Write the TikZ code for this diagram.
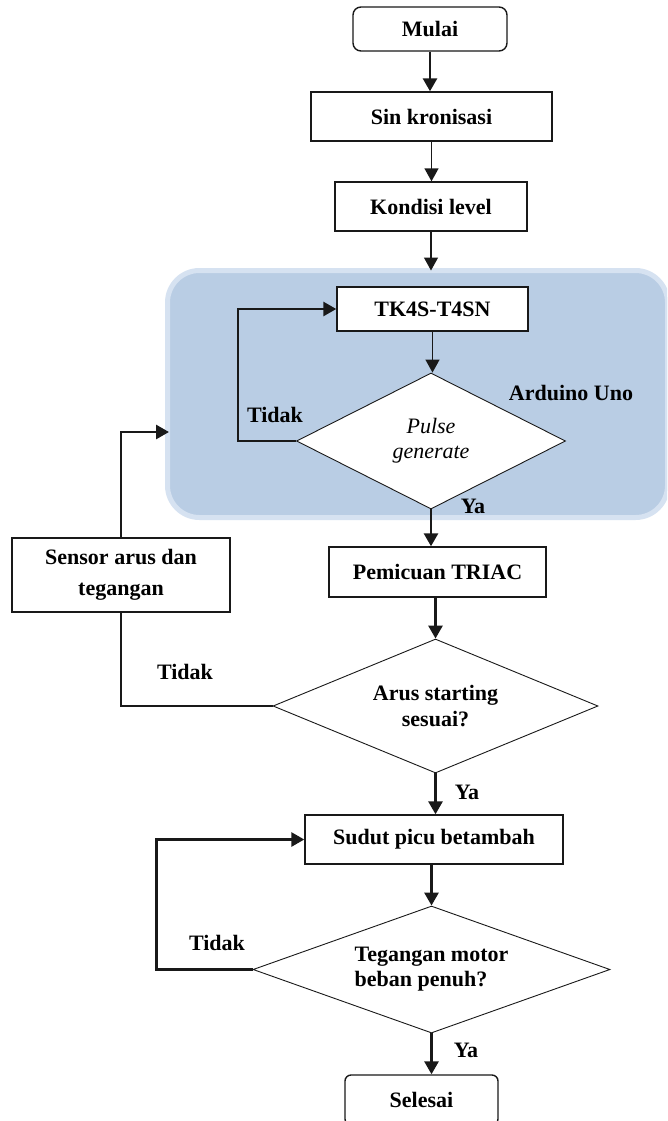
\documentclass[tikz,border=0pt]{standalone}
\usepackage{fontspec}
\setmainfont{Liberation Serif}
\usetikzlibrary{shapes.geometric,arrows.meta}
\definecolor{mcublue}{RGB}{185,205,228}
\definecolor{mcurim}{RGB}{214,226,241}
\definecolor{linecol}{RGB}{25,25,25}
\tikzset{
  txt/.style={font=\fontsize{22}{26}\selectfont\bfseries},
  box/.style={draw=linecol, line width=1.4pt, fill=white, inner sep=0pt, align=center, txt},
  decision/.style={diamond, shape aspect=2, draw=linecol, line width=0.9pt, fill=white, inner sep=0pt, align=center, txt},
  thinarr/.style={draw=linecol, line width=1.4pt, -{Triangle[length=13pt,width=14pt]}},
  thickarr/.style={draw=linecol, line width=2.8pt, -{Triangle[length=13pt,width=14pt]}},
  thinline/.style={draw=linecol, line width=1.4pt},
  lbl/.style={txt, inner sep=0pt}
}
\begin{document}
\begin{tikzpicture}[x=1pt,y=-1pt]
\useasboundingbox (0,0) rectangle (667,1121);
\clip (0,0) rectangle (667,1121);
\fill[white] (0,0) rectangle (667,1121);

% microcontroller region
\node[draw=mcurim, fill=mcublue, line width=5pt, rounded corners=32pt, outer sep=0pt,
      minimum width=500pt, minimum height=247pt, inner sep=0pt] (mcu) at (417.5,394) {};
\node[lbl] (ard) at (571,393) {Arduino Uno};

% nodes
\node[box, rounded corners=8pt, minimum width=154pt, minimum height=44pt] (mulai) at (430,29) {Mulai};
\node[box, minimum width=241pt, minimum height=49pt] (sink) at (431.5,116.5) {Sin kronisasi};
\node[box, minimum width=192pt, minimum height=49pt] (kond) at (431,206.5) {Kondisi level};
\node[box, minimum width=191pt, minimum height=44pt] (tk) at (432.5,309) {TK4S-T4SN};
\node[decision, minimum width=269pt, minimum height=136pt, font=\fontsize{22}{25}\selectfont\itshape] (pulse) at (431,441) {Pulse\\generate};
\node[box, minimum width=217pt, minimum height=50pt] (pem) at (437.5,572) {Pemicuan TRIAC};
\node[box, minimum width=218pt, minimum height=74pt, font=\fontsize{22}{31}\selectfont\bfseries] (sensor) at (121,575) {Sensor arus dan\\tegangan};
\node[decision, minimum width=325pt, minimum height=134pt] (arus) at (435.5,706) {Arus starting\\sesuai?};
\node[box, minimum width=258pt, minimum height=49pt] (sudut) at (434,839.5) {Sudut picu betambah};
\node[decision, minimum width=357pt, minimum height=127pt, align=left, font=\fontsize{22}{25}\selectfont\bfseries] (teg) at (431.5,969.5) {Tegangan motor\\beban penuh?};
\node[box, rounded corners=6pt, minimum width=153pt, minimum height=50pt] (sel) at (421.5,1100) {Selesai};

% connectors
\draw[thickarr] (mulai.south) -- (mulai.south |- sink.north);
\draw[thinarr] (sink.south) -- (sink.south |- kond.north);
\draw[thinarr] (kond.south) -- (kond.south |- mcu.north);
\draw[thinarr] (tk.south) -- (tk.south |- pulse.north);
\draw[thickarr] (pulse.west) -- ++(-58,0) |- (tk.west);
\node[lbl] (t1) at (275,415) {Tidak};
\draw[thickarr] (pulse.south) -- (pulse.south |- pem.north);
\node[lbl] (y1) at (473,506) {Ya};
\draw[thickarr] (pem.south -| arus.north) -- (arus.north);
\draw[thinline] (arus.west) -| (sensor.south);
\node[lbl] (t2) at (185,672) {Tidak};
\coordinate (mcuin) at (169,432);
\draw[thickarr] (sensor.north) |- (mcuin);
\draw[thickarr] (arus.south) -- (arus.south |- sudut.north);
\node[lbl] (y2) at (467,792) {Ya};
\draw[thickarr] (sudut.south -| teg.north) -- (teg.north);
\draw[thickarr] (teg.west) -- ++(-96,0) |- (sudut.west);
\node[lbl] (t3) at (217,943) {Tidak};
\draw[thickarr] (teg.south) -- (teg.south |- sel.north);
\node[lbl] (y3) at (466,1050) {Ya};
\end{tikzpicture}
\end{document}
